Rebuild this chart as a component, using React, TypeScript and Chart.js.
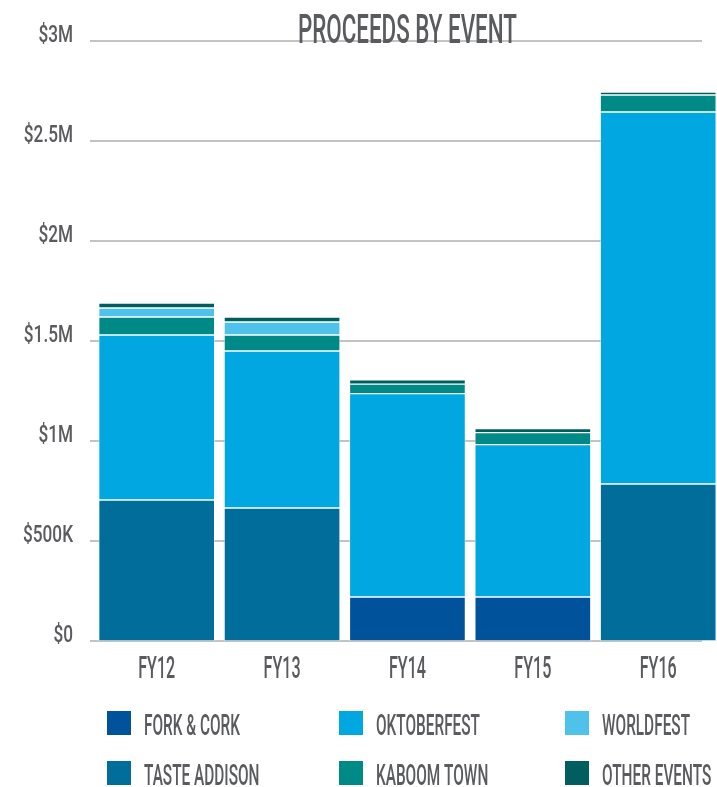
import React, { useEffect, useRef } from "react";
import { Chart, registerables } from "chart.js";

Chart.register(...registerables);

// ---------- DATA (values in $ millions) ----------
const categories = ["FY12", "FY13", "FY14", "FY15", "FY16"];
const forkCork = [null, null, 0.22, 0.22, null];
const tasteAddison = [0.705, 0.665, null, null, 0.785];
const oktoberfest = [0.825, 0.785, 1.017, 0.762, 1.86];
const kaboomTown = [0.09, 0.08, 0.047, 0.06, 0.085];
const worldfest = [0.045, 0.065, null, null, null];
const otherEvents = [0.025, 0.025, 0.022, 0.02, 0.015];

const yTickValues = [0, 0.5, 1, 1.5, 2, 2.5, 3];
const yTickLabels = ["$0", "$500K", "$1M", "$1.5M", "$2M", "$2.5M", "$3M"];

const title = "PROCEEDS BY EVENT";

// legend layout order (row-major, 3 columns)
const legendOrder = [
  "FORK & CORK",
  "OKTOBERFEST",
  "WORLDFEST",
  "TASTE ADDISON",
  "KABOOM TOWN",
  "OTHER EVENTS",
];

// ---------- STYLE ----------
const COLORS: Record<string, string> = {
  "FORK & CORK": "#00529b",
  "TASTE ADDISON": "#006d9b",
  OKTOBERFEST: "#00a7e0",
  "KABOOM TOWN": "#008a87",
  WORLDFEST: "#4ec2eb",
  "OTHER EVENTS": "#005e61",
};
const TEXT = "#5a5b5e";
const GRID = "#c3c3c3";
const FONT = "Roboto, 'Liberation Sans', sans-serif";

function drawCondensed(
  ctx: CanvasRenderingContext2D,
  text: string,
  x: number,
  y: number,
  size: number,
  targetSample: string,
  targetWidth: number,
  align: "left" | "right" | "center"
) {
  ctx.save();
  ctx.font = `500 ${size}px ${FONT}`;
  const sx = targetWidth / ctx.measureText(targetSample).width;
  ctx.translate(x, y);
  ctx.scale(sx, 1);
  ctx.textAlign = align;
  ctx.textBaseline = "alphabetic";
  ctx.fillStyle = TEXT;
  ctx.fillText(text, 0, 0);
  ctx.restore();
}

const customDraw = {
  id: "customDraw",
  beforeDatasetsDraw(chart: any) {
    const ctx = chart.ctx as CanvasRenderingContext2D;
    const y = chart.scales.y;
    ctx.save();
    ctx.strokeStyle = GRID;
    ctx.lineWidth = 2;
    yTickValues.forEach((v) => {
      const py = Math.round(y.getPixelForValue(v));
      ctx.beginPath();
      ctx.moveTo(90, py);
      ctx.lineTo(702, py);
      ctx.stroke();
    });
    ctx.restore();
  },
  afterDatasetsDraw(chart: any) {
    const ctx = chart.ctx as CanvasRenderingContext2D;
    const x = chart.scales.x;
    const y = chart.scales.y;
    // y tick labels
    yTickValues.forEach((v, i) => {
      const py = y.getPixelForValue(v);
      drawCondensed(ctx, yTickLabels[i], 73, py + 1, 24, "$500K", 50, "right");
    });
    // x labels
    categories.forEach((c, i) => {
      drawCondensed(ctx, c, x.getPixelForValue(i), 678, 31, "FY12", 37, "center");
    });
    // title
    const cx = (x.getPixelForValue(-0.5) + x.getPixelForValue(categories.length - 0.5)) / 2;
    drawCondensed(ctx, title, cx, 43, 40, title, 219, "center");
    // legend
    const colX = [107, 339, 565];
    const rowY = [711, 761];
    legendOrder.forEach((name, i) => {
      const col = i % 3;
      const row = Math.floor(i / 3);
      ctx.save();
      ctx.fillStyle = COLORS[name];
      ctx.fillRect(colX[col], rowY[row], 24, 24);
      ctx.restore();
      drawCondensed(ctx, name, colX[col] + 37, rowY[row] + 24, 29, "FORK & CORK", 96, "left");
    });
  },
};

function series(label: string, values: (number | null)[]) {
  return {
    label,
    data: values.map((v, i) => ({ x: i, y: v })),
    backgroundColor: COLORS[label],
    borderColor: "rgba(255,255,255,0.45)",
    borderWidth: 1,
    borderSkipped: false,
    barThickness: 116,
  };
}

export default function App() {
  const ref = useRef<HTMLCanvasElement>(null);
  useEffect(() => {
    if (!ref.current) return;
    const chart = new Chart(ref.current, {
      type: "bar",
      data: {
        datasets: [
          series("FORK & CORK", forkCork),
          series("TASTE ADDISON", tasteAddison),
          series("OKTOBERFEST", oktoberfest),
          series("KABOOM TOWN", kaboomTown),
          series("WORLDFEST", worldfest),
          series("OTHER EVENTS", otherEvents),
        ] as any,
      },
      options: {
        responsive: false,
        animation: false,
        layout: { padding: { left: 94, right: 0, top: 41, bottom: 146 } },
        plugins: { legend: { display: false }, tooltip: { enabled: false }, title: { display: false } },
        scales: {
          x: { type: "linear", display: false, stacked: true, min: -0.5, max: 4.469, offset: false },
          y: { display: false, stacked: true, min: 0, max: 3 },
        },
      },
      plugins: [customDraw],
    });
    return () => chart.destroy();
  }, []);
  return (
    <div style={{ position: "fixed", left: 0, top: 0, width: 717, height: 787, background: "#fff" }}>
      <canvas ref={ref} width={717} height={787} style={{ display: "block" }} />
    </div>
  );
}
